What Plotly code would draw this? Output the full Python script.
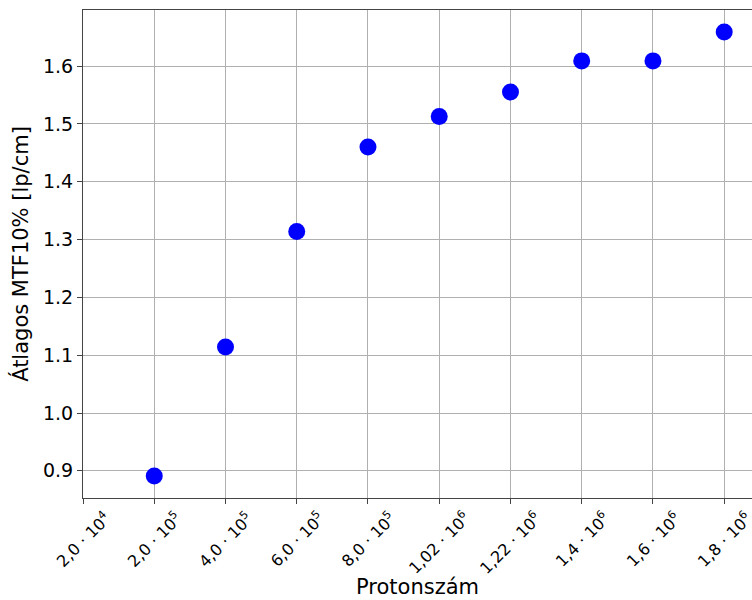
import plotly.graph_objects as go

tick_labels = ["2,0 · 10<sup>4</sup>", "2,0 · 10<sup>5</sup>", "4,0 · 10<sup>5</sup>", "6,0 · 10<sup>5</sup>",
               "8,0 · 10<sup>5</sup>", "1,02 · 10<sup>6</sup>", "1,22 · 10<sup>6</sup>", "1,4 · 10<sup>6</sup>",
               "1,6 · 10<sup>6</sup>", "1,8 · 10<sup>6</sup>"]
tick_pos = list(range(len(tick_labels)))
x_pos = [1, 2, 3, 4, 5, 6, 7, 8, 9]
mtf = [0.891, 1.114, 1.314, 1.460, 1.513, 1.555, 1.609, 1.609, 1.659]

fig = go.Figure()
fig.add_trace(go.Scatter(x=x_pos, y=mtf, mode="markers",
                         marker=dict(color="#0000FF", size=17, line=dict(width=0)),
                         showlegend=False))

for p, t in zip(tick_pos, tick_labels):
    fig.add_annotation(x=p, y=0, xref="x", yref="paper", text=t, showarrow=False,
                       textangle=-45, xanchor="center", yanchor="top", yshift=-7,
                       font=dict(size=16, family="DejaVu Sans", color="black"))

fig.add_annotation(x=0.5, y=0, xref="paper", yref="paper", text="Protonszám", showarrow=False,
                   xanchor="center", yanchor="middle", yshift=-89, borderpad=0,
                   font=dict(size=21, family="DejaVu Sans", color="black"))

fig.update_layout(
    width=752, height=600,
    margin=dict(l=83, r=0, t=10, b=102),
    paper_bgcolor="white", plot_bgcolor="white",
    font=dict(family="DejaVu Sans", color="black"),
)
fig.update_xaxes(
    range=[0, 9.39], tickmode="array", tickvals=tick_pos, showticklabels=False,
    showline=True, linecolor="#444", linewidth=1.2, mirror=True,
    ticks="outside", ticklen=5, tickcolor="#444",
    showgrid=True, gridcolor="#b0b0b0", gridwidth=0.8, zeroline=False,
    automargin=False,
)
fig.update_yaxes(
    range=[0.853, 1.697], tickmode="array", tickvals=[0.9, 1.0, 1.1, 1.2, 1.3, 1.4, 1.5, 1.6],
    ticktext=["0.9", "1.0", "1.1", "1.2", "1.3", "1.4", "1.5", "1.6"],
    tickfont=dict(size=19),
    showline=True, linecolor="#444", linewidth=1.2,
    ticks="outside", ticklen=5, tickcolor="#444",
    showgrid=True, gridcolor="#b0b0b0", gridwidth=0.8, zeroline=False,
    title=dict(text="Átlagos MTF10% [lp/cm]", font=dict(size=21), standoff=8),
)
fig.write_html("out.html")
